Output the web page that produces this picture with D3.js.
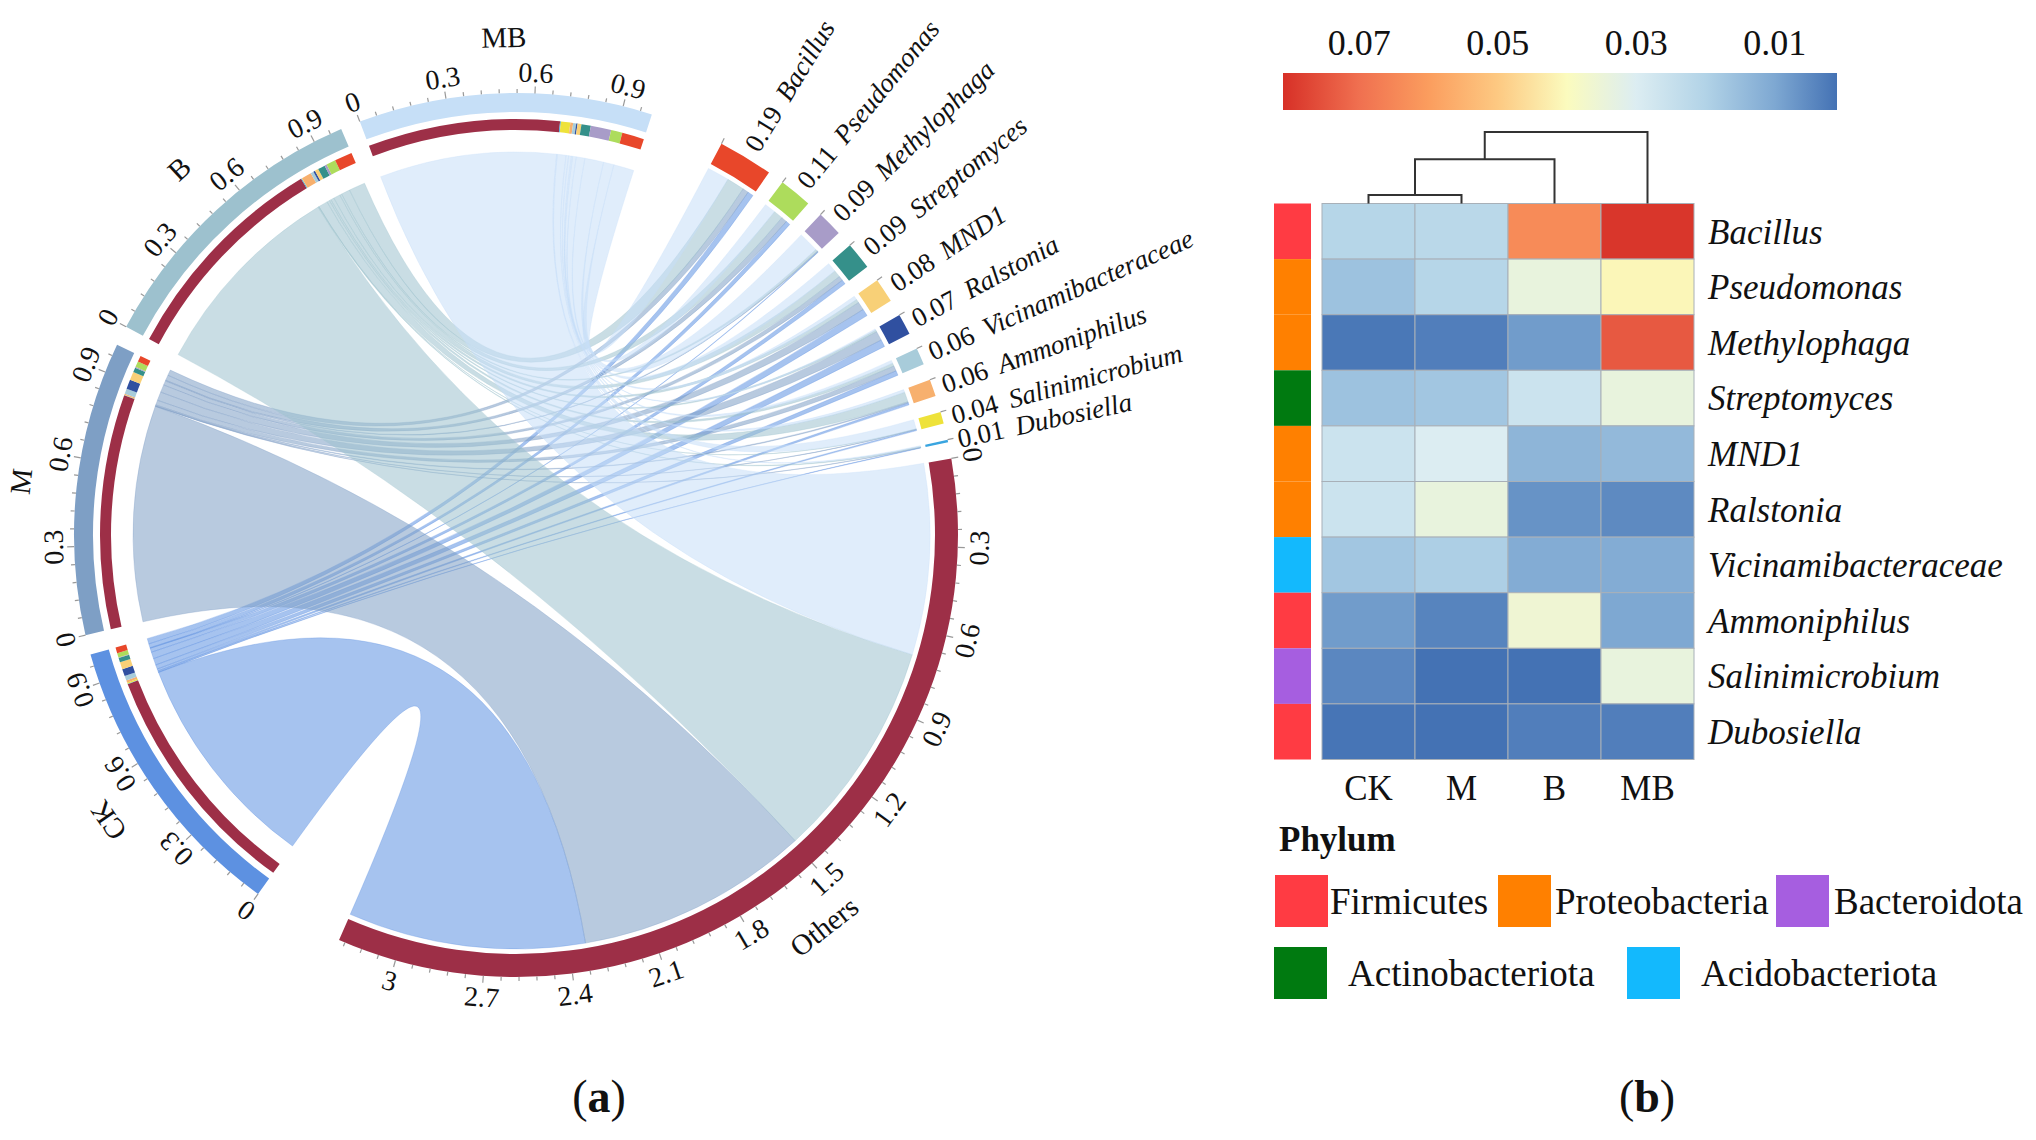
<!DOCTYPE html>
<html>
<head>
<meta charset="utf-8">
<script src="https://cdn.jsdelivr.net/npm/d3@7"></script>
<style>
body { margin: 0; background: #fff; }
text { font-family: "Liberation Serif", "Times New Roman", serif; fill: #111; }
</style>
</head>
<body>
<script>
// ---- data ----
var samples = ["CK", "M", "B", "MB"];
var genera = ["Bacillus", "Pseudomonas", "Methylophaga", "Streptomyces", "MND1",
  "Ralstonia", "Vicinamibacteraceae", "Ammoniphilus", "Salinimicrobium", "Dubosiella"];
// relative abundance of each genus, in sample order CK, M, B, MB
var abundance = [
  [0.021, 0.022, 0.064, 0.080],
  [0.016, 0.021, 0.034, 0.041],
  [0.002, 0.003, 0.008, 0.074],
  [0.016, 0.017, 0.026, 0.034],
  [0.026, 0.030, 0.013, 0.014],
  [0.026, 0.034, 0.0065, 0.005],
  [0.017, 0.019, 0.011, 0.011],
  [0.008, 0.004, 0.036, 0.010],
  [0.0045, 0.001, 0.001, 0.034],
  [0.0015, 0.001, 0.003, 0.003]
];
var others = [0.862, 0.848, 0.7975, 0.694];
var phylumOf = ["Firmicutes", "Proteobacteria", "Proteobacteria", "Actinobacteriota", "Proteobacteria",
  "Proteobacteria", "Acidobacteriota", "Firmicutes", "Bacteroidota", "Firmicutes"];
var phyla = ["Firmicutes", "Proteobacteria", "Bacteroidota", "Actinobacteriota", "Acidobacteriota"];
var colorbarTicks = [0.07, 0.05, 0.03, 0.01];
// column dendrogram: (CK,M) -> +B -> +MB
var mergeHeights = [0.12, 0.62, 1.0];

// ---- colours ----
var sampleColors = ["#5d91e1", "#7e9fc5", "#9dc1ce", "#c6dff7"];
var genusColors = ["#e8472a", "#addc5c", "#a89cc8", "#35908a", "#f8d077",
  "#3050a0", "#a8ccda", "#f7b06e", "#eee23a", "#39a5e0"];
var othersColor = "#9d2f47";
var phylumColors = {"Firmicutes": "#ff3b43", "Proteobacteria": "#ff8000", "Bacteroidota": "#a65ee0",
  "Actinobacteriota": "#007a10", "Acidobacteriota": "#13b9fd"};
var cbValues = [0.081, 0.07, 0.06, 0.05, 0.04, 0.03, 0.02, 0.01, 0.001];
var cbColors = ["#d73027", "#f07050", "#fb9d5e", "#fdc982", "#fbfbbe", "#dcedf2", "#b2d3e7", "#7ea8d2", "#4472b4"];

var W = 2036, H = 1140;
var svg = d3.select("body").append("svg")
  .attr("width", W).attr("height", H)
  .style("background", "#fff");

// ================= (a) chord diagram =================
var deg = Math.PI / 180;
var cx = 516, cy = 535;
var gapSample = 2.6, gapGenus = 2.15, gapToGenus = 9.8, gapToCK = 12.1;
var startCK = 215.7;

var genusTotals = abundance.map(function(r) { return d3.sum(r); });
var othersTotal = d3.sum(others);
var totalUnits = samples.length + d3.sum(genusTotals) + othersTotal;
var totalGap = (samples.length - 1) * gapSample + gapToGenus + genera.length * gapGenus + gapToCK;
var k = (360 - totalGap) / totalUnits; // degrees per unit of abundance

var sectors = [];
var a = startCK;
samples.forEach(function(s, i) {
  sectors.push({name: s, type: "sample", index: i, size: 1, start: a, end: a + k});
  a += k + (i < samples.length - 1 ? gapSample : gapToGenus);
});
genera.forEach(function(g, j) {
  sectors.push({name: g, type: "genus", index: j, size: genusTotals[j], start: a, end: a + genusTotals[j] * k});
  a += genusTotals[j] * k + gapGenus;
});
sectors.push({name: "Others", type: "others", size: othersTotal, start: a, end: a + othersTotal * k});

var rOuter = [423, 442], rInner = [405, 416], rBlock = [419, 442];
var rLinkSample = 383, rLinkTarget = 414;

// split each sector into link segments
var links = [];
var innerSegs = [];
samples.forEach(function(s, i) {
  var sec = sectors[i];
  var pos = sec.start;
  var targets = [{t: "others", v: others[i], c: othersColor}];
  for (var j = genera.length - 1; j >= 0; j--) targets.push({t: j, v: abundance[j][i], c: genusColors[j]});
  targets.forEach(function(t) {
    var seg = {startAngle: pos * deg, endAngle: (pos + t.v * k) * deg, radius: rLinkSample};
    innerSegs.push({start: pos, end: pos + t.v * k, color: t.c});
    links.push({sample: i, target: t.t, source: seg});
    pos += t.v * k;
  });
});
// target side: samples ordered MB, B, M, CK clockwise
sectors.filter(function(d) { return d.type !== "sample"; }).forEach(function(sec) {
  var pos = sec.start;
  for (var i = samples.length - 1; i >= 0; i--) {
    var v = sec.type === "others" ? others[i] : abundance[sec.index][i];
    var key = sec.type === "others" ? "others" : sec.index;
    var l = links.find(function(d) { return d.sample === i && d.target === key; });
    l.target = {startAngle: pos * deg, endAngle: (pos + v * k) * deg, radius: rLinkTarget};
    pos += v * k;
  }
});

var chord = svg.append("g").attr("transform", "translate(" + cx + "," + cy + ")");
var ribbon = d3.ribbon();

chord.append("g").selectAll("path")
  .data(links)
  .enter().append("path")
  .attr("d", function(d) { return ribbon({source: d.source, target: d.target}); })
  .attr("fill", function(d) { return sampleColors[d.sample]; })
  .attr("fill-opacity", 0.55)
  .attr("stroke", function(d) { return sampleColors[d.sample]; })
  .attr("stroke-opacity", 0.5)
  .attr("stroke-width", 0.6);

var arc = d3.arc();
// outer track of samples
chord.append("g").selectAll("path")
  .data(sectors.filter(function(d) { return d.type === "sample"; }))
  .enter().append("path")
  .attr("d", function(d) { return arc({innerRadius: rOuter[0], outerRadius: rOuter[1], startAngle: d.start * deg, endAngle: d.end * deg}); })
  .attr("fill", function(d) { return sampleColors[d.index]; });
// composition track of samples
chord.append("g").selectAll("path")
  .data(innerSegs)
  .enter().append("path")
  .attr("d", function(d) { return arc({innerRadius: rInner[0], outerRadius: rInner[1], startAngle: d.start * deg, endAngle: d.end * deg}); })
  .attr("fill", function(d) { return d.color; });
// genus and Others blocks
chord.append("g").selectAll("path")
  .data(sectors.filter(function(d) { return d.type !== "sample"; }))
  .enter().append("path")
  .attr("d", function(d) { return arc({innerRadius: rBlock[0], outerRadius: rBlock[1], startAngle: d.start * deg, endAngle: d.end * deg}); })
  .attr("fill", function(d) { return d.type === "others" ? othersColor : genusColors[d.index]; });

function polar(r, aDeg) {
  return [r * Math.sin(aDeg * deg), -r * Math.cos(aDeg * deg)];
}

// axis ticks
var tickG = chord.append("g");
sectors.filter(function(d) { return d.type !== "genus"; }).forEach(function(sec) {
  var inward = sec.type === "others";
  for (var i = 0; i * 0.06 <= sec.size + 1e-9; i++) {
    var v = i * 0.06;
    var ang = sec.start + v * k;
    var major = i % 5 === 0;
    var p0 = polar(rOuter[1], ang), p1 = polar(rOuter[1] + (major ? 7 : 4), ang);
    tickG.append("line")
      .attr("x1", p0[0]).attr("y1", p0[1]).attr("x2", p1[0]).attr("y2", p1[1])
      .attr("stroke", "#999").attr("stroke-width", 1.2);
    if (major) {
      var pl = polar(463, ang);
      tickG.append("text")
        .attr("transform", "translate(" + pl[0] + "," + pl[1] + ") rotate(" + (inward ? ang - 180 : ang) + ")")
        .attr("text-anchor", "middle").attr("dy", "0.35em")
        .attr("font-size", 28)
        .text(String(+v.toFixed(1)));
    }
  }
  var mid = (sec.start + sec.end) / 2;
  var pn = polar(498, mid);
  tickG.append("text")
    .attr("transform", "translate(" + pn[0] + "," + pn[1] + ") rotate(" + (inward ? mid - 180 : mid) + ")")
    .attr("text-anchor", "middle").attr("dy", "0.35em")
    .attr("font-size", 29)
    .text(sec.name);
});

// genus labels, radial
var fmt = d3.format(".2f");
sectors.filter(function(d) { return d.type === "genus"; }).forEach(function(sec) {
  var p0 = polar(rBlock[1], sec.start), p1 = polar(rBlock[1] + 6, sec.start);
  tickG.append("line")
    .attr("x1", p0[0]).attr("y1", p0[1]).attr("x2", p1[0]).attr("y2", p1[1])
    .attr("stroke", "#999").attr("stroke-width", 1.2);
  var mid = (sec.start + sec.end) / 2;
  var pl = polar(452, mid);
  var t = tickG.append("text")
    .attr("transform", "translate(" + pl[0] + "," + pl[1] + ") rotate(" + (mid - 90) + ")")
    .attr("dy", "0.35em")
    .attr("font-size", 27);
  t.append("tspan").text(fmt(sec.size));
  t.append("tspan").attr("dx", 12).attr("font-style", "italic").text(sec.name);
});

// ================= (b) heatmap =================
var x = d3.scaleBand().domain(samples).range([1322, 1694]);
var y = d3.scaleBand().domain(genera).range([203.5, 759.5]);
var color = d3.scaleLinear().domain(cbValues).range(cbColors).clamp(true);

var cells = [];
genera.forEach(function(g, j) {
  samples.forEach(function(s, i) { cells.push({g: g, s: s, v: abundance[j][i]}); });
});
svg.append("g").selectAll("rect")
  .data(cells)
  .enter().append("rect")
  .attr("x", function(d) { return x(d.s); })
  .attr("y", function(d) { return y(d.g); })
  .attr("width", x.bandwidth())
  .attr("height", y.bandwidth())
  .attr("fill", function(d) { return color(d.v); })
  .attr("stroke", "#a8b0b8")
  .attr("stroke-width", 1);

// phylum annotation column
svg.append("g").selectAll("rect")
  .data(genera)
  .enter().append("rect")
  .attr("x", 1274).attr("width", 37)
  .attr("y", function(d) { return y(d); })
  .attr("height", y.bandwidth())
  .attr("fill", function(d, j) { return phylumColors[phylumOf[j]]; });

// row labels
svg.append("g").selectAll("text")
  .data(genera)
  .enter().append("text")
  .attr("x", 1708)
  .attr("y", function(d) { return y(d) + y.bandwidth() / 2; })
  .attr("dy", "0.35em")
  .attr("font-size", 35)
  .attr("font-style", "italic")
  .text(function(d) { return d; });

// column labels
svg.append("g").selectAll("text")
  .data(samples)
  .enter().append("text")
  .attr("x", function(d) { return x(d) + x.bandwidth() / 2; })
  .attr("y", 800)
  .attr("text-anchor", "middle")
  .attr("font-size", 35)
  .text(function(d) { return d; });

// dendrogram
var hy = d3.scaleLinear().domain([0, 1]).range([203.5, 132]);
var cxs = samples.map(function(s) { return x(s) + x.bandwidth() / 2; });
var dendro = svg.append("g").attr("fill", "none").attr("stroke", "#333").attr("stroke-width", 2);
function bracket(xl, yl, xr, yr, h) {
  dendro.append("path")
    .attr("d", "M" + xl + "," + yl + "V" + hy(h) + "H" + xr + "V" + yr);
}
bracket(cxs[0], hy(0), cxs[1], hy(0), mergeHeights[0]);
var m1 = (cxs[0] + cxs[1]) / 2;
bracket(m1, hy(mergeHeights[0]), cxs[2], hy(0), mergeHeights[1]);
var m2 = (m1 + cxs[2]) / 2;
bracket(m2, hy(mergeHeights[1]), cxs[3], hy(0), mergeHeights[2]);

// colour bar
var cbx = d3.scaleLinear().domain([cbValues[0], cbValues[cbValues.length - 1]]).range([1283, 1837]);
var grad = svg.append("defs").append("linearGradient").attr("id", "cb");
cbValues.forEach(function(v, i) {
  grad.append("stop")
    .attr("offset", (cbx(v) - 1283) / (1837 - 1283))
    .attr("stop-color", cbColors[i]);
});
svg.append("rect")
  .attr("x", 1283).attr("y", 73).attr("width", 554).attr("height", 37)
  .attr("fill", "url(#cb)");
svg.append("g").selectAll("text")
  .data(colorbarTicks)
  .enter().append("text")
  .attr("x", function(d) { return cbx(d); })
  .attr("y", 55)
  .attr("text-anchor", "middle")
  .attr("font-size", 36)
  .text(function(d) { return d3.format(".2f")(d); });

// phylum legend
svg.append("text").attr("x", 1279).attr("y", 851)
  .attr("font-size", 35).attr("font-weight", "bold").text("Phylum");
var legendPos = [[1275, 875, 1330], [1498, 875, 1555], [1776, 875, 1834], [1274, 947, 1348], [1627, 947, 1701]];
phyla.forEach(function(p, i) {
  var lp = legendPos[i];
  svg.append("rect").attr("x", lp[0]).attr("y", lp[1]).attr("width", 53).attr("height", 52)
    .attr("fill", phylumColors[p]);
  svg.append("text").attr("x", lp[2]).attr("y", lp[1] + 26).attr("dy", "0.35em")
    .attr("font-size", 37).text(p);
});

// panel letters
[["a", 599], ["b", 1647]].forEach(function(p) {
  var t = svg.append("text").attr("x", p[1]).attr("y", 1112)
    .attr("text-anchor", "middle").attr("font-size", 46);
  t.append("tspan").text("(");
  t.append("tspan").attr("font-weight", "bold").text(p[0]);
  t.append("tspan").text(")");
});
</script>
</body>
</html>
